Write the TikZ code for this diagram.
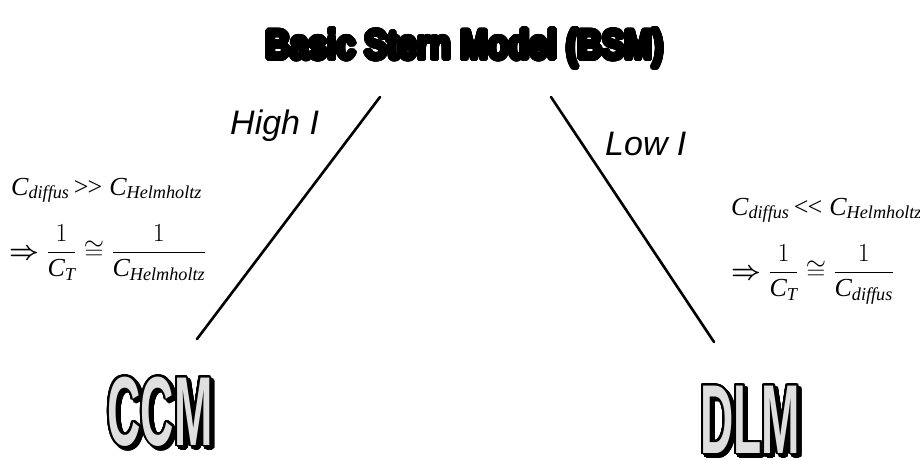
\RequirePackage{fix-cm}
\documentclass[tikz,border=0pt]{standalone}
\usepackage{amsmath}
\usepackage{fontspec}
\usepackage{contour}
\setmainfont{Liberation Serif}
\newfontfamily\labelfont{Liberation Sans}
\newfontfamily\titlefont{Liberation Sans}[FakeStretch=0.82]
\newfontfamily\modelfont{Liberation Sans}[FakeStretch=0.47]
\contournumber{32}
\newcommand{\mi}[1]{\textit{#1}}
\newcommand{\modelword}[1]{\contourlength{2pt}\makebox[0pt][l]{\hspace{3pt}\raisebox{-3pt}{\color{black}\contour{black}{#1}}}{\color{gray!25}\contour{black}{#1}}}
\tikzset{
  eq/.style={inner sep=0pt, anchor=base west, font=\fontsize{26}{31}\selectfont},
  branchlabel/.style={inner sep=0pt, anchor=base west, font=\labelfont\itshape\fontsize{34}{40}\selectfont},
  model/.style={inner sep=0pt, anchor=base, font=\modelfont\bfseries\fontsize{98}{100}\selectfont},
  branch/.style={line width=2.6pt, line cap=round}
}
\begin{document}
\begin{tikzpicture}[x=1pt,y=-1pt]
\useasboundingbox (0,0) rectangle (920,460);
% title
\node[inner sep=0pt, anchor=base, font=\titlefont\bfseries\fontsize{41}{46}\selectfont] (bsm) at (465,59)
  {\contourlength{2.2pt}\contour{black}{Basic Stern Model (BSM)}};
% branch end points
\coordinate (lt) at (380,97);
\coordinate (lb) at (197,339);
\coordinate (rt) at (551,97);
\coordinate (rb) at (714,342);
\draw[branch] (lt) -- (lb);
\draw[branch] (rt) -- (rb);
% labels
\node[branchlabel] (high) at (230,134) {High I};
\node[branchlabel] (low) at (605,155) {Low I};
% left equations
\node[eq] (eqL1) at (11,195) {$\mi{C}_{\mi{diffus}}\,\textrm{>\kern-1pt>}\;\mi{C}_{\mi{Helmholtz}}$};
\node[eq] (eqL2) at (9,259) {$\displaystyle \boldsymbol{\Rightarrow} \frac{1}{\mi{C}_{\mi{T}}} \cong \frac{1}{\mi{C}_{\mi{Helmholtz}}}$};
% right equations
\node[eq] (eqR1) at (731,215) {$\mi{C}_{\mi{diffus}}\,\textrm{<\kern-1pt<}\;\mi{C}_{\mi{Helmholtz}}$};
\node[eq] (eqR2) at (731,279) {$\displaystyle \boldsymbol{\Rightarrow} \frac{1}{\mi{C}_{\mi{T}}} \cong \frac{1}{\mi{C}_{\mi{diffus}}}$};
% models
\node[model] (ccm) at (160,445) {\modelword{CCM}};
\node[model] (dlm) at (750,453) {\modelword{DLM}};
\end{tikzpicture}
\end{document}
